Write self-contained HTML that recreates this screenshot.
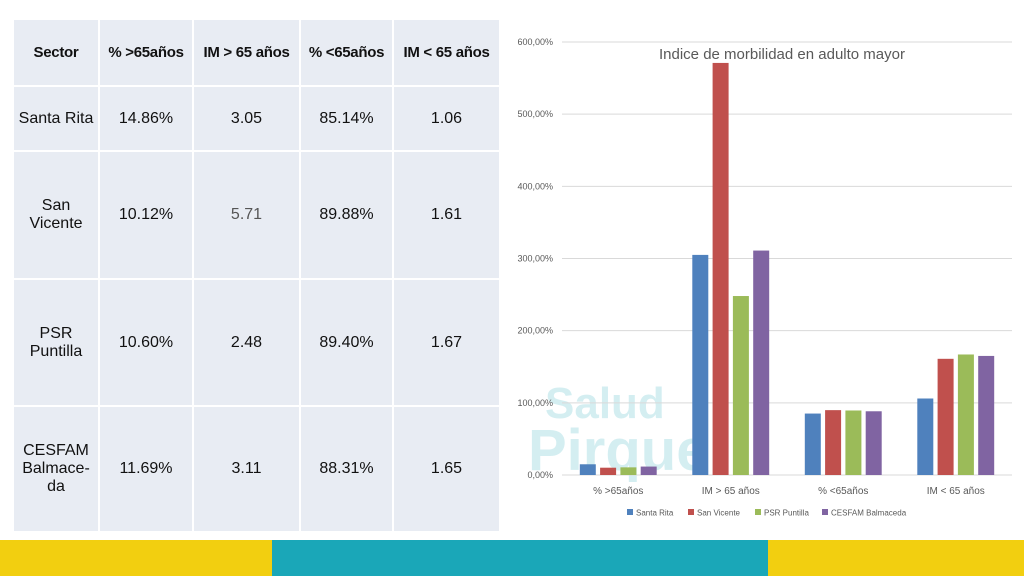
<!DOCTYPE html>
<html><head><meta charset="utf-8"><style>
body{margin:0;width:1024px;height:576px;overflow:hidden;background:#fff;font-family:"Liberation Sans",sans-serif;position:relative}
table{position:absolute;left:12px;top:18px;border-collapse:collapse;width:487px;height:513px;table-layout:fixed}
td{background:#e8ecf3;border:2px solid #fff;text-align:center;font-size:16px;color:#111;padding:0;white-space:nowrap}
tr.h td{font-weight:bold;font-size:15px;letter-spacing:-0.3px}
.bar{position:absolute;top:540px;height:36px}
</style></head><body>
<table>
<colgroup><col style="width:86px"><col style="width:94px"><col style="width:107px"><col style="width:93px"><col style="width:107px"></colgroup>
<tr class="h" style="height:67px"><td>Sector</td><td>% &gt;65años</td><td>IM &gt; 65 años</td><td>% &lt;65años</td><td>IM &lt; 65 años</td></tr>
<tr style="height:65px"><td>Santa Rita</td><td>14.86%</td><td>3.05</td><td>85.14%</td><td>1.06</td></tr>
<tr style="height:128px"><td>San<br>Vicente</td><td>10.12%</td><td style="color:#555">5.71</td><td>89.88%</td><td>1.61</td></tr>
<tr style="height:127px"><td>PSR<br>Puntilla</td><td>10.60%</td><td>2.48</td><td>89.40%</td><td>1.67</td></tr>
<tr style="height:126px"><td>CESFAM<br>Balmace-<br>da</td><td>11.69%</td><td>3.11</td><td>88.31%</td><td>1.65</td></tr>
</table>
<div class="bar" style="left:0;width:272px;background:#f2cf10"></div>
<div class="bar" style="left:272px;width:496px;background:#1aa7b8"></div>
<div class="bar" style="left:768px;width:256px;background:#f2cf10"></div>
<svg id="chart" width="1024" height="540" style="position:absolute;left:0;top:0" font-family="Liberation Sans, sans-serif">
<text x="545" y="418" font-size="44" font-weight="bold" fill="#1aa7b8" opacity="0.18">Salud</text>
<text x="528" y="470" font-size="58" font-weight="bold" fill="#1aa7b8" opacity="0.18">Pirque</text>
</svg>
<script>
const categories=["% >65años","IM > 65 años","% <65años","IM < 65 años"];
const series=["Santa Rita","San Vicente","PSR Puntilla","CESFAM Balmaceda"];
const colors=["#4f81bd","#c0504d","#9bbb59","#8064a2"];
const santaRita=[14.86,305,85.14,106];
const sanVicente=[10.12,571,89.88,161];
const psrPuntilla=[10.6,248,89.4,167];
const cesfam=[11.69,311,88.31,165];
const yTicks=[0,100,200,300,400,500,600];
const yTickLabels=["0,00%","100,00%","200,00%","300,00%","400,00%","500,00%","600,00%"];
const values=[santaRita,sanVicente,psrPuntilla,cesfam];
const svg=document.getElementById('chart');const NS="http://www.w3.org/2000/svg";
const x0=562,x1=1012,y0=475,y1=42;
const y=v=>y0-(v/600)*(y0-y1);
const cw=(x1-x0)/categories.length;
const cx=i=>x0+cw*(i+0.5);
function mk(t,a,txt){const e=document.createElementNS(NS,t);for(const k in a)e.setAttribute(k,a[k]);if(txt!==undefined)e.textContent=txt;svg.appendChild(e);return e;}
yTicks.forEach((t,i)=>{
const l=mk('line',{x1:x0,x2:x1,y1:y(t),y2:y(t),stroke:'#d9d9d9','stroke-width':1});


const tx=mk('text',{x:553,y:y(t)+3,'font-size':9,fill:'#595959','text-anchor':'end'},yTickLabels[i]);


});
const bw=16,gap=20.3;
categories.forEach((c,i)=>{
values.forEach((s,j)=>{
const bx=cx(i)+(j-1.5)*gap-bw/2;
const r=mk('rect',{x:bx,y:y(s[i]),width:bw,height:y0-y(s[i]),fill:colors[j]});


});
const t=mk('text',{x:cx(i),y:494,'font-size':10,fill:'#595959','text-anchor':'middle'},c);


});
const title=mk('text',{x:782,y:59,'font-size':15,fill:'#595959','text-anchor':'middle'},"Indice de morbilidad en adulto mayor");


const lx=[627,688,755,822];
series.forEach((s,j)=>{
const r=mk('rect',{x:lx[j],y:509,width:6,height:6,fill:colors[j]});


const t=mk('text',{x:lx[j]+9,y:515.5,'font-size':8,fill:'#595959'},s);


});
</script>
</body></html>
